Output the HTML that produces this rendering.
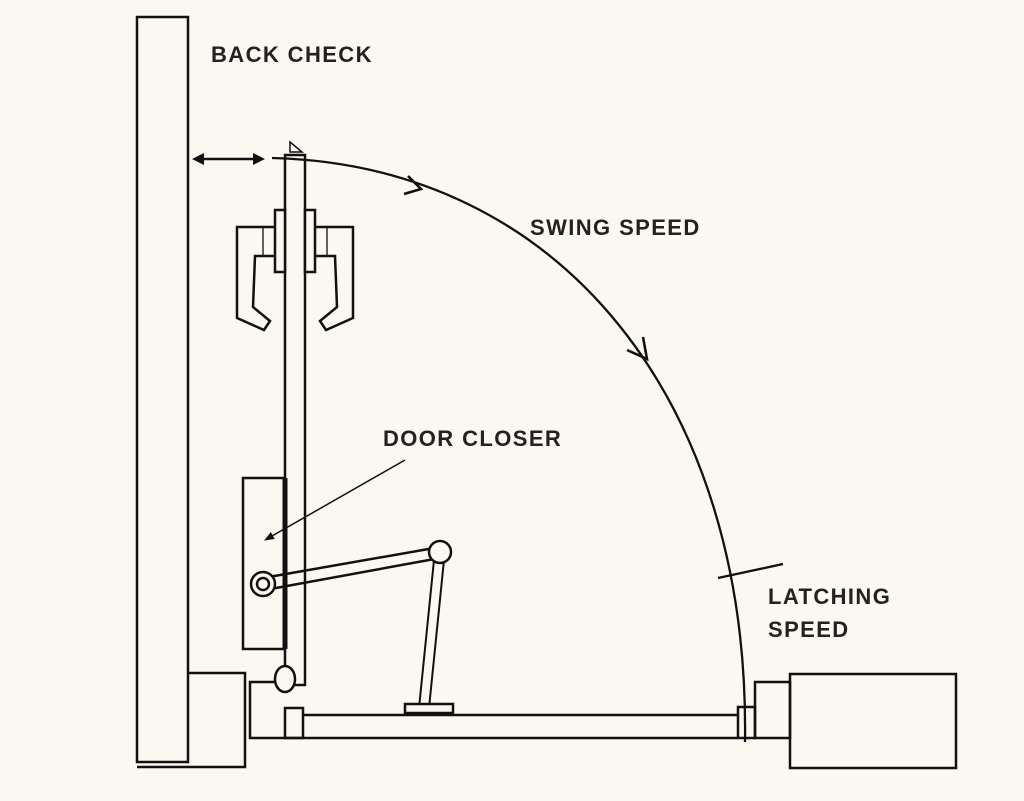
<!DOCTYPE html>
<html><head><style>
html,body{margin:0;padding:0;background:#fbf7f1;}
svg{display:block;}
text{font-family:"Liberation Sans",Arial,sans-serif;font-weight:bold;font-size:22px;letter-spacing:1.4px;fill:#222;}
</style></head><body>
<svg width="1024" height="801" viewBox="0 0 1024 801" xmlns="http://www.w3.org/2000/svg">
<defs>
<marker id="ah" markerWidth="10" markerHeight="8" refX="9" refY="4" orient="auto" markerUnits="userSpaceOnUse"><path d="M0,0 L10,4 L0,8 z" fill="#111"/></marker>
</defs>
<g fill="none" stroke="#111" stroke-width="2.5">
<rect x="137" y="17" width="51" height="745"/>
<path d="M137 767 H245 V673 H188"/>
<path d="M275 682 H250 V738 H738"/>
<rect x="285" y="708" width="18" height="30"/>
<path d="M303 715 H738"/>
<rect x="738" y="707" width="17" height="31"/>
<rect x="755" y="682" width="35" height="56"/>
<rect x="790" y="674" width="166" height="94"/>
<rect x="285" y="155" width="20" height="530" fill="#fbf7f1"/>
<path d="M290 142 L302 152 L290 152 Z" stroke-width="1.5"/>
<rect x="275" y="210" width="10" height="62" fill="#fbf7f1"/>
<rect x="305" y="210" width="10" height="62" fill="#fbf7f1"/>
<path d="M275 227 H237 V318 L264 330 L270 321 L253 307 L255 256 H275"/>
<path d="M315 227 H353 V318 L326 330 L320 321 L337 307 L335 256 H315"/>
<path d="M263 227 V256 M327 227 V256" stroke-width="1.3"/>
<rect x="243" y="478" width="41" height="171" fill="#fbf7f1"/>
<path d="M285 478 V649" stroke-width="5"/>
<ellipse cx="285" cy="679" rx="10" ry="13" fill="#fbf7f1"/>
<path d="M263 578 L440 547 M265 590 L440 558" />
<path d="M434 560 L419 708 M444 560 L429 708" stroke-width="2"/>
<rect x="405" y="704" width="48" height="9" fill="#fbf7f1"/>
<circle cx="440" cy="552" r="11" fill="#fbf7f1"/>
<circle cx="263" cy="584" r="12" fill="#fbf7f1"/>
<circle cx="263" cy="584" r="6"/>
<path d="M272 158 C560 165 750 400 745 742" stroke-width="2.3"/>
<path d="M718 578 L783 564" stroke-width="2.3"/>
<path d="M200 159 H258"/>
<path d="M405 460 L265 540" stroke-width="1.5" marker-end="url(#ah)"/>
<path d="M408 176 L421 189 L404 194" stroke-width="2.6"/>
<path d="M643 337 L647 359 L627 350" stroke-width="2.6"/>
</g>
<path d="M192 159 L204 153 L204 165 Z M265 159 L253 153 L253 165 Z" fill="#111"/>
<text x="211" y="62">BACK CHECK</text>
<text x="530" y="235">SWING SPEED</text>
<text x="383" y="446">DOOR CLOSER</text>
<text x="768" y="604">LATCHING</text>
<text x="768" y="637">SPEED</text>
</svg>
</body></html>
